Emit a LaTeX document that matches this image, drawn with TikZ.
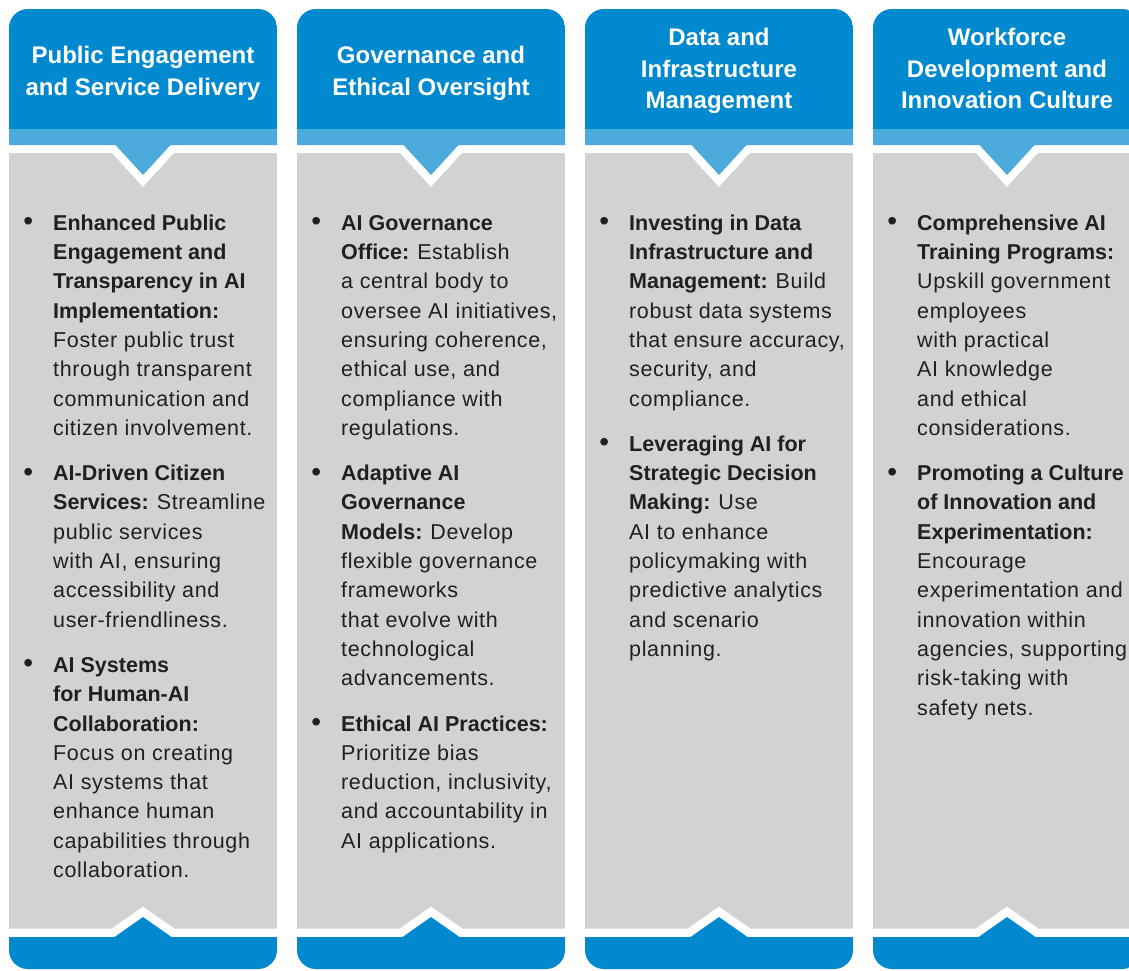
\documentclass[tikz,border=0pt]{standalone}
\usepackage{fontspec}
\setmainfont{Liberation Sans}[LetterSpace=3.0,BoldFeatures={LetterSpace=0}]
\newfontfamily\headfont{Liberation Sans}[LetterSpace=0]
\definecolor{dblue}{RGB}{0,137,207}
\definecolor{lblue}{RGB}{77,170,221}
\definecolor{pgray}{RGB}{209,210,212}
\definecolor{txt}{RGB}{35,31,32}
\newcommand\bul{\strut\llap{\raisebox{-0.5pt}{\fontsize{28}{28}\selectfont •}\hspace{20pt}}}
\newcommand\drawcol[1]{%
  \pgfmathsetmacro\cL{#1}\pgfmathsetmacro\cR{#1+268}\pgfmathsetmacro\cC{#1+134}%
  \begin{scope}
    \clip[rounded corners=19pt] (\cL,9) rectangle (\cR,969);
    \fill[pgray] (\cL,0) rectangle (\cR,980);
    \draw[white,line width=16pt] (\cL-20,145) -- (\cC-27.5,145) -- (\cC,175) -- (\cC+27.5,145) -- (\cR+20,145);
    \fill[lblue] (\cL,120) -- (\cR,120) -- (\cR,145) -- (\cC+27.5,145) -- (\cC,175) -- (\cC-27.5,145) -- (\cL,145) -- cycle;
    \fill[dblue] (\cL,0) rectangle (\cR,129);
    \draw[white,line width=17pt] (\cL-20,937) -- (\cC-28.5,937) -- (\cC,917) -- (\cC+28.5,937) -- (\cR+20,937);
    \fill[dblue] (\cL,937) -- (\cC-28.5,937) -- (\cC,917) -- (\cC+28.5,937) -- (\cR,937) -- (\cR,980) -- (\cL,980) -- cycle;
  \end{scope}}
\tikzset{
  head/.style={anchor=north, align=center, inner sep=0pt, text=white,
    font=\headfont\bfseries\fontsize{24}{31.6}\selectfont},
  item/.style={anchor=north west, align=left, inner sep=0pt, text=txt,
    font=\fontsize{21.5}{29.3}\selectfont}
}
\begin{document}
\begin{tikzpicture}[x=1pt,y=-1pt]
\useasboundingbox (0,0) rectangle (1129,970);
\clip (0,0) rectangle (1129,970);
\fill[white] (0,0) rectangle (1129,970);
\drawcol{9}
\drawcol{297}
\drawcol{585}
\drawcol{873}
% headings
\node[head] (h1) at (143,41.2) {\strut Public Engagement\\and Service Delivery};
\node[head] (h2) at (431,41.2) {\strut Governance and\\Ethical Oversight};
\node[head] (h3) at (719,23.4) {\strut Data and\\Infrastructure\\Management};
\node[head] (h4) at (1007,23.4) {\strut Workforce\\Development and\\Innovation Culture};
% column 1
\node[item] (a1) at (53,209.5) {\bul\textbf{Enhanced Public}\\\textbf{Engagement and}\\\textbf{Transparency in AI}\\\textbf{Implementation:}\\Foster public trust\\through transparent\\communication and\\citizen involvement.};
\node[item] (a2) at (53,459.9) {\bul\textbf{AI-Driven Citizen}\\\textbf{Services: }Streamline\\public services\\with AI, ensuring\\accessibility and\\user-friendliness.};
\node[item] (a3) at (53,651.7) {\bul\textbf{AI Systems}\\\textbf{for Human-AI}\\\textbf{Collaboration:}\\Focus on creating\\AI systems that\\enhance human\\capabilities through\\collaboration.};
% column 2
\node[item] (b1) at (341,209.5) {\bul\textbf{AI Governance}\\\textbf{Office: }Establish\\a central body to\\oversee AI initiatives,\\ensuring coherence,\\ethical use, and\\compliance with\\regulations.};
\node[item] (b2) at (341,459.9) {\bul\textbf{Adaptive AI}\\\textbf{Governance}\\\textbf{Models: }Develop\\flexible governance\\frameworks\\that evolve with\\technological\\advancements.};
\node[item] (b3) at (341,710.3) {\bul\textbf{Ethical AI Practices:}\\Prioritize bias\\reduction, inclusivity,\\and accountability in\\AI applications.};
% column 3
\node[item] (c1) at (629,209.5) {\bul\textbf{Investing in Data}\\\textbf{Infrastructure and}\\\textbf{Management: }Build\\robust data systems\\that ensure accuracy,\\security, and\\compliance.};
\node[item] (c2) at (629,430.6) {\bul\textbf{Leveraging AI for}\\\textbf{Strategic Decision}\\\textbf{Making: }Use\\AI to enhance\\policymaking with\\predictive analytics\\and scenario\\planning.};
% column 4
\node[item] (d1) at (917,209.5) {\bul\textbf{Comprehensive AI}\\\textbf{Training Programs:}\\Upskill government\\employees\\with practical\\AI knowledge\\and ethical\\considerations.};
\node[item] (d2) at (917,459.9) {\bul\textbf{Promoting a Culture}\\\textbf{of Innovation and}\\\textbf{Experimentation:}\\Encourage\\experimentation and\\innovation within\\agencies, supporting\\risk-taking with\\safety nets.};
\end{tikzpicture}
\end{document}
